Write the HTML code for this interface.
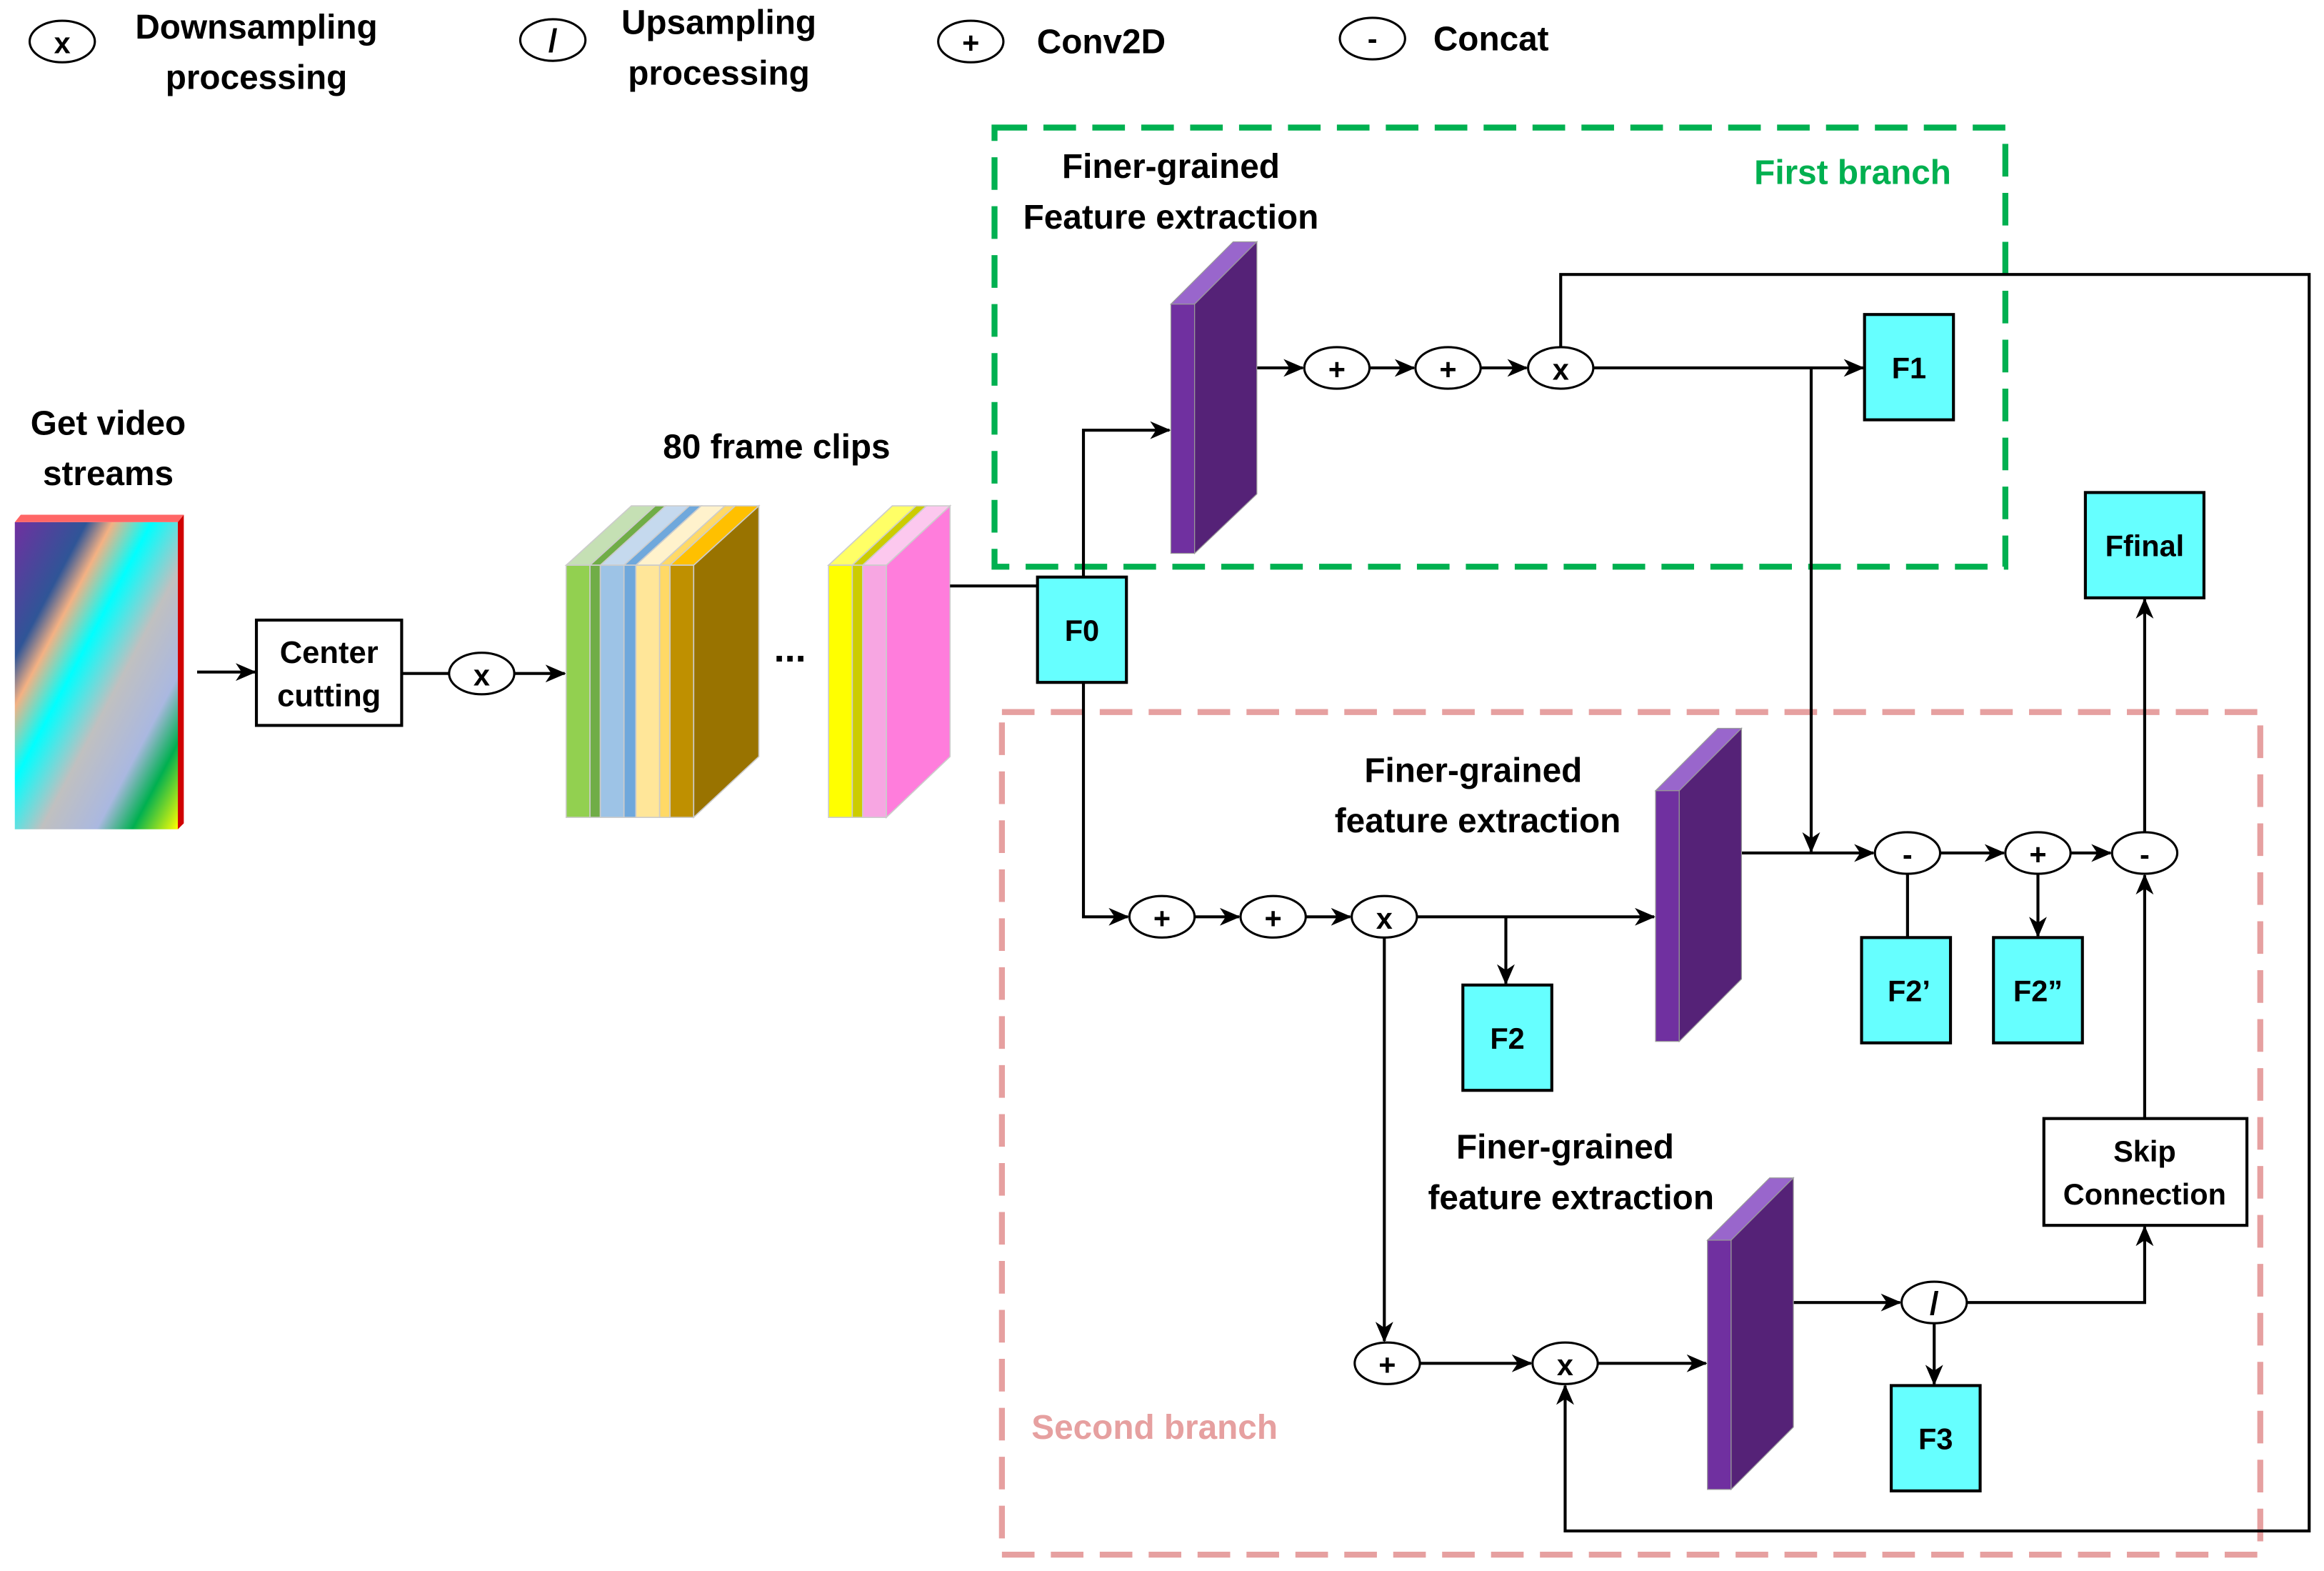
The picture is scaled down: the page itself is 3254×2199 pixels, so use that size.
<!DOCTYPE html>
<html><head><meta charset="utf-8"><style>
html,body{margin:0;padding:0;background:#fff}
svg{display:block}
text{font-family:"Liberation Sans",sans-serif;font-weight:bold;fill:#000}
</style></head><body>
<svg width="3254" height="2199" viewBox="0 0 1568 1059" preserveAspectRatio="none" xmlns="http://www.w3.org/2000/svg">
<defs>
<marker id="a" markerWidth="14" markerHeight="12" refX="13" refY="6" orient="auto" markerUnits="userSpaceOnUse"><path d="M0,0 L14,6 L0,12 L4,6 z" fill="#000"/></marker>
<linearGradient id="g" x1="0" y1="0" x2="1" y2="1">
<stop offset="0" stop-color="#7030a0"/><stop offset="0.22" stop-color="#2f5597"/><stop offset="0.3" stop-color="#f4b183"/><stop offset="0.42" stop-color="#00ffff"/><stop offset="0.58" stop-color="#c0c0c0"/><stop offset="0.75" stop-color="#aab8e0"/><stop offset="0.86" stop-color="#00b050"/><stop offset="1" stop-color="#ffff00"/>
</linearGradient>
</defs>
<g font-size="23" text-anchor="middle">
<g fill="#fff" stroke="#000" stroke-width="1.5">
<ellipse cx="42" cy="28" rx="22" ry="14"/><ellipse cx="373" cy="27" rx="22" ry="14"/><ellipse cx="655" cy="28" rx="22" ry="14"/><ellipse cx="926" cy="26" rx="22" ry="14"/>
</g>
<text x="42" y="36" font-size="20">x</text><text x="373" y="35" font-size="22">/</text><text x="655" y="36" font-size="20">+</text><text x="926" y="33" font-size="20">-</text>
<text x="173" y="26">Downsampling</text><text x="173" y="60">processing</text>
<text x="485" y="23">Upsampling</text><text x="485" y="57">processing</text>
<text x="743" y="36">Conv2D</text><text x="1006" y="34">Concat</text>

<rect x="671" y="86" width="682" height="296" fill="none" stroke="#00b050" stroke-width="4" stroke-dasharray="22,11"/>
<text x="1250" y="124" style="fill:#00b050">First branch</text>
<rect x="676" y="480" width="849" height="568" fill="none" stroke="#e6a0a0" stroke-width="4" stroke-dasharray="22,11"/>
<text x="779" y="970" style="fill:#e6a0a0">Second branch</text>

<text x="73" y="293">Get video</text><text x="73" y="327">streams</text>
<polygon points="10,352 14,347 124,347 120,352" fill="#ff6666"/>
<rect x="10" y="352" width="110" height="207" fill="url(#g)"/>
<polygon points="120,352 124,347 124,555 120,559" fill="#d00000"/>
<line x1="133" y1="453" x2="172" y2="453" stroke="#000" stroke-width="2" marker-end="url(#a)"/>
<rect x="173" y="418" width="98" height="71" fill="#fff" stroke="#000" stroke-width="2"/>
<text x="222" y="447" font-size="21">Center</text><text x="222" y="476" font-size="21">cutting</text>
<line x1="271" y1="454" x2="303" y2="454" stroke="#000" stroke-width="2"/>
<ellipse cx="325" cy="454" rx="22" ry="14" fill="#fff" stroke="#000" stroke-width="1.5"/><text x="325" y="462" font-size="20">x</text>
<line x1="347" y1="454" x2="381" y2="454" stroke="#000" stroke-width="2" marker-end="url(#a)"/>

<g stroke="#ccc" stroke-width="0.8">
<polygon points="468,381 512,341 512,510 468,551" fill="#997300"/>
<polygon points="452,381 468,381 512,341 496,341" fill="#ffc000"/>
<rect x="452" y="381" width="16" height="170" fill="#bf9000"/>
<polygon points="445,381 452,381 496,341 489,341" fill="#ffd966"/>
<polygon points="445,381 452,381 452,551 445,551" fill="#ffd966"/>
<polygon points="429,381 445,381 489,341 473,341" fill="#fff2cc"/>
<rect x="429" y="381" width="16" height="170" fill="#ffe699"/>
<polygon points="421,381 429,381 473,341 465,341" fill="#6fa8dc"/>
<rect x="421" y="381" width="8" height="170" fill="#6fa8dc"/>
<polygon points="405,381 421,381 465,341 449,341" fill="#c5d9ee"/>
<rect x="405" y="381" width="16" height="170" fill="#9dc3e6"/>
<polygon points="398,381 405,381 449,341 442,341" fill="#70ad47"/>
<rect x="398" y="381" width="7" height="170" fill="#70ad47"/>
<polygon points="382,381 398,381 442,341 426,341" fill="#c5e0b4"/>
<rect x="382" y="381" width="16" height="170" fill="#92d050"/>

<polygon points="598,381 641,341 641,510 598,551" fill="#ff7ddc"/>
<polygon points="582,381 598,381 641,341 625,341" fill="#fcc8ee"/>
<rect x="582" y="381" width="16" height="170" fill="#f7a6e2"/>
<polygon points="575,381 582,381 625,341 618,341" fill="#cccc00"/>
<rect x="575" y="381" width="7" height="170" fill="#cccc00"/>
<polygon points="559,381 575,381 618,341 602,341" fill="#ffff66"/>
<rect x="559" y="381" width="16" height="170" fill="#ffff00"/>
</g>
<text x="533" y="446" font-size="26">...</text>
<text x="524" y="309">80 frame clips</text>

<g stroke="#000" stroke-width="2" fill="none">
<polyline points="641,395 700,395"/>
<polyline points="731,389 731,290 789,290" marker-end="url(#a)"/>
<line x1="848" y1="248" x2="879" y2="248" marker-end="url(#a)"/>
<line x1="924" y1="248" x2="954" y2="248" marker-end="url(#a)"/>
<line x1="999" y1="248" x2="1030" y2="248" marker-end="url(#a)"/>
<line x1="1075" y1="248" x2="1257" y2="248" marker-end="url(#a)"/>
<line x1="1222" y1="248" x2="1222" y2="574" marker-end="url(#a)"/>
<polyline points="1053,234 1053,185 1558,185 1558,1032 1056,1032 1056,934" marker-end="url(#a)"/>
<polyline points="731,460 731,618 761,618" marker-end="url(#a)"/>
<line x1="806" y1="618" x2="836" y2="618" marker-end="url(#a)"/>
<line x1="881" y1="618" x2="911" y2="618" marker-end="url(#a)"/>
<line x1="956" y1="618" x2="1116" y2="618" marker-end="url(#a)"/>
<polyline points="1016,618 1016,663" marker-end="url(#a)"/>
<polyline points="934,632 934,904" marker-end="url(#a)"/>
<line x1="958" y1="919" x2="1033" y2="919" marker-end="url(#a)"/>
<line x1="1078" y1="919" x2="1151" y2="919" marker-end="url(#a)"/>
<line x1="1175" y1="575" x2="1264" y2="575" marker-end="url(#a)"/>
<line x1="1309" y1="575" x2="1352" y2="575" marker-end="url(#a)"/>
<line x1="1397" y1="575" x2="1424" y2="575" marker-end="url(#a)"/>
<line x1="1287" y1="589" x2="1287" y2="632"/>
<line x1="1375" y1="589" x2="1375" y2="631" marker-end="url(#a)"/>
<line x1="1447" y1="561" x2="1447" y2="404" marker-end="url(#a)"/>
<line x1="1447" y1="754" x2="1447" y2="590" marker-end="url(#a)"/>
<line x1="1210" y1="878" x2="1282" y2="878" marker-end="url(#a)"/>
<polyline points="1327,878 1447,878 1447,827" marker-end="url(#a)"/>
<line x1="1305" y1="892" x2="1305" y2="933" marker-end="url(#a)"/>
</g>

<g fill="#fff" stroke="#000" stroke-width="1.5">
<ellipse cx="902" cy="248" rx="22" ry="14"/><ellipse cx="977" cy="248" rx="22" ry="14"/><ellipse cx="1053" cy="248" rx="22" ry="14"/>
<ellipse cx="784" cy="618" rx="22" ry="14"/><ellipse cx="859" cy="618" rx="22" ry="14"/><ellipse cx="934" cy="618" rx="22" ry="14"/>
<ellipse cx="936" cy="919" rx="22" ry="14"/><ellipse cx="1056" cy="919" rx="22" ry="14"/>
<ellipse cx="1287" cy="575" rx="22" ry="14"/><ellipse cx="1375" cy="575" rx="22" ry="14"/><ellipse cx="1447" cy="575" rx="22" ry="14"/>
<ellipse cx="1305" cy="878" rx="22" ry="14"/>
</g>
<g font-size="20">
<text x="902" y="256">+</text><text x="977" y="256">+</text><text x="1053" y="256">x</text>
<text x="784" y="626">+</text><text x="859" y="626">+</text><text x="934" y="626">x</text>
<text x="936" y="927">+</text><text x="1056" y="927">x</text>
<text x="1287" y="583">-</text><text x="1375" y="583">+</text><text x="1447" y="583">-</text>
<text x="1305" y="886" font-size="22">/</text>
</g>

<g stroke="#999" stroke-width="0.6">
<polygon points="790,205 806,205 848,163 832,163" fill="#9966cc"/><rect x="790" y="205" width="16" height="168" fill="#7030a0"/><polygon points="806,205 848,163 848,333 806,373" fill="#552277"/>
<polygon points="1117,533 1133,533 1175,491 1159,491" fill="#9966cc"/><rect x="1117" y="533" width="16" height="169" fill="#7030a0"/><polygon points="1133,533 1175,491 1175,660 1133,702" fill="#552277"/>
<polygon points="1152,836 1168,836 1210,794 1194,794" fill="#9966cc"/><rect x="1152" y="836" width="16" height="168" fill="#7030a0"/><polygon points="1168,836 1210,794 1210,962 1168,1004" fill="#552277"/>
</g>
<text x="790" y="120">Finer-grained</text><text x="790" y="154">Feature extraction</text>
<text x="994" y="527">Finer-grained</text><text x="997" y="561">feature extraction</text>
<text x="1056" y="781">Finer-grained</text><text x="1060" y="815">feature extraction</text>

<g fill="#66ffff" stroke="#000" stroke-width="2">
<rect x="700" y="389" width="60" height="71"/>
<rect x="1258" y="212" width="60" height="71"/>
<rect x="1407" y="332" width="80" height="71"/>
<rect x="987" y="664" width="60" height="71"/>
<rect x="1256" y="632" width="60" height="71"/>
<rect x="1345" y="632" width="60" height="71"/>
<rect x="1276" y="934" width="60" height="71"/>
</g>
<rect x="1379" y="754" width="137" height="72" fill="#fff" stroke="#000" stroke-width="2"/>
<g font-size="20">
<text x="730" y="432">F0</text><text x="1288" y="255">F1</text><text x="1447" y="375">Ffinal</text>
<text x="1017" y="707">F2</text><text x="1288" y="675">F2’</text><text x="1375" y="675">F2”</text><text x="1306" y="977">F3</text>
<text x="1447" y="783">Skip</text><text x="1447" y="812">Connection</text>
</g>
</g>
</svg>
</body></html>
